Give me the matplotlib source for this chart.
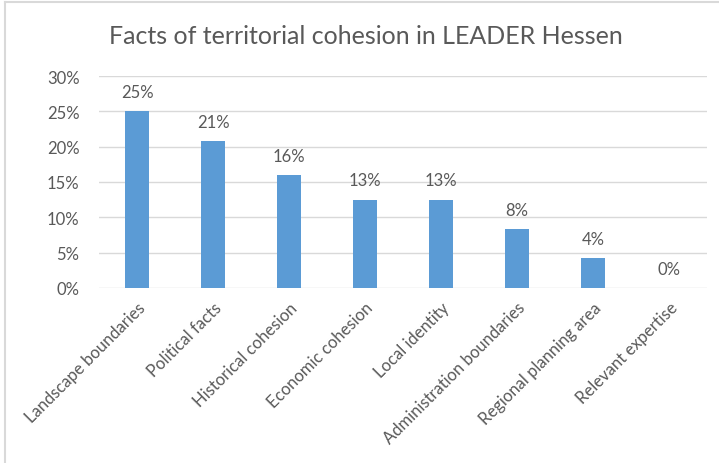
import numpy as np
import matplotlib
matplotlib.use("Agg")
import matplotlib.pyplot as plt
from matplotlib.lines import Line2D

categories = ["Landscape boundaries", "Political facts", "Historical cohesion",
              "Economic cohesion", "Local identity", "Administration boundaries",
              "Regional planning area", "Relevant expertise"]
shares = [25.0, 20.8, 16.0, 12.5, 12.5, 8.3, 4.2, 0.0]
labels = ["25%", "21%", "16%", "13%", "13%", "8%", "4%", "0%"]
yticks = [0, 5, 10, 15, 20, 25, 30]

plt.rcParams['font.family'] = ['Lato', 'DejaVu Sans']
txt = "#595959"

W, H = 719, 464
fig = plt.figure(figsize=(W / 100, H / 100), dpi=100)
ax = fig.add_axes([99 / W, 1 - 289 / H, (707 - 99) / W, (289 - 77) / H])

x = np.arange(len(categories))
ax.bar(x, shares, width=0.32, color="#5b9bd5", zorder=3)
for xi, v, lab in zip(x, shares, labels):
    ax.text(xi, v + 1.6, lab, ha="center", va="bottom", fontsize=12, color=txt)

ax.set_xlim(-0.5, len(categories) - 0.5)
ax.set_ylim(0, 30)
ax.set_yticks(yticks)
ax.set_yticklabels([f"{t}%" for t in yticks], fontsize=12, color=txt)
ax.set_xticks(x)
ax.set_xticklabels(categories, rotation=45, ha="right", rotation_mode="anchor",
                   fontsize=12, color=txt)
ax.tick_params(length=0, pad=14)
ax.tick_params(axis="x", pad=8)
ax.grid(axis="y", color="#d9d9d9", linewidth=1, zorder=0)
for s in ax.spines.values():
    s.set_visible(False)

fig.text(366 / W, 1 - 37 / H, "Facts of territorial cohesion in LEADER Hessen",
         ha="center", va="center", fontsize=18, color=txt)

# thin border of the chart frame (top and left)
fig.add_artist(Line2D([5 / W, 1], [1 - 3 / H, 1 - 3 / H], transform=fig.transFigure,
                      color="#d9d9d9", linewidth=1.5))
fig.add_artist(Line2D([5 / W, 5 / W], [0, 1 - 3 / H], transform=fig.transFigure,
                      color="#d9d9d9", linewidth=1.5))

fig.savefig("out.png", dpi=100)
